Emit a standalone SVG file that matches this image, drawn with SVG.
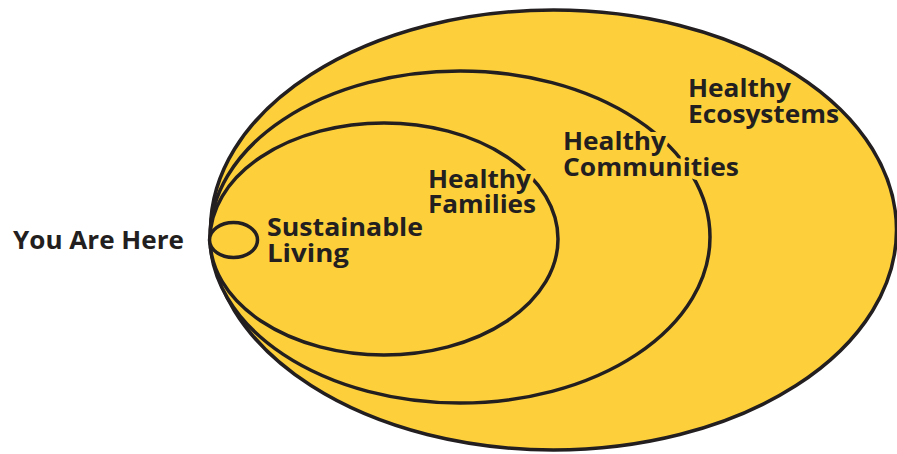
<svg xmlns="http://www.w3.org/2000/svg" width="897" height="454" viewBox="0 0 897 454">
<style>
.ring{fill:#FDD03B;stroke:#231F20;stroke-width:3.5}
.lbl{font-family:"Open Sans","Noto Sans",sans-serif;font-weight:700;font-size:25px;fill:#231F20}
.halo{stroke:#FDD03B;stroke-width:8;stroke-linejoin:round;paint-order:stroke}
</style>
<rect width="897" height="454" fill="#FFFFFF"/>
<g id="healthy-ecosystems">
<ellipse class="ring" cx="553.5" cy="230" rx="343" ry="220"/>
</g>
<g id="healthy-communities">
<ellipse class="ring" cx="460" cy="237" rx="250" ry="166"/>
</g>
<g id="healthy-families">
<ellipse class="ring" cx="384" cy="239" rx="174" ry="116"/>
</g>
<g id="you-are-here">
<ellipse class="ring" cx="233.5" cy="240" rx="24" ry="17.5"/>
<text class="lbl" x="13" y="249" textLength="171" lengthAdjust="spacingAndGlyphs">You Are Here</text>
</g>
<g id="label-sustainable-living">
<text class="lbl" x="267" y="236" textLength="156" lengthAdjust="spacingAndGlyphs">Sustainable</text>
<text class="lbl" x="267" y="262" textLength="82" lengthAdjust="spacingAndGlyphs">Living</text>
</g>
<g id="label-healthy-families">
<text class="lbl halo" x="428" y="188" textLength="103" lengthAdjust="spacingAndGlyphs">Healthy</text>
<text class="lbl halo" x="428" y="213" textLength="108" lengthAdjust="spacingAndGlyphs">Families</text>
</g>
<g id="label-healthy-communities">
<text class="lbl halo" x="563" y="150" textLength="103" lengthAdjust="spacingAndGlyphs">Healthy</text>
<text class="lbl halo" x="563" y="176" textLength="176" lengthAdjust="spacingAndGlyphs">Communities</text>
</g>
<g id="label-healthy-ecosystems">
<text class="lbl" x="688" y="97" textLength="103" lengthAdjust="spacingAndGlyphs">Healthy</text>
<text class="lbl" x="688" y="123" textLength="151" lengthAdjust="spacingAndGlyphs">Ecosystems</text>
</g>
<g id="connectors"/>
</svg>
